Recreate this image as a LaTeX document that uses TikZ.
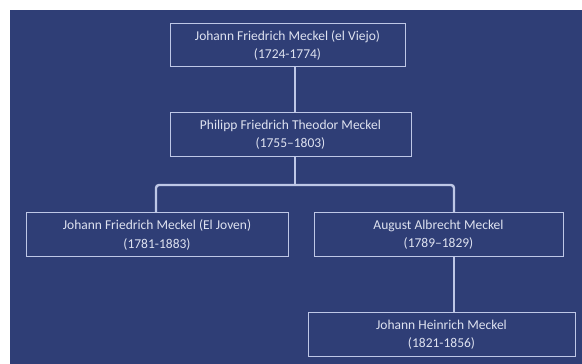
\documentclass[tikz,border=0pt]{standalone}
\usepackage{fontspec}
\setmainfont{Carlito}
\definecolor{bgblue}{RGB}{47,62,118}
\definecolor{linegray}{RGB}{190,199,230}
\definecolor{textgray}{RGB}{222,226,240}
\tikzset{
  person/.style={draw=linegray, line width=1pt, text=textgray, align=center,
    inner sep=0pt, font=\fontsize{13.5}{18.5}\selectfont},
  link/.style={draw=linegray, line width=2.4pt}
}
\begin{document}
\begin{tikzpicture}[x=1pt,y=1pt]
                    \useasboundingbox (0,0) rectangle (582,364);%
                    % Background
                    \fill [bgblue] (10,0) rectangle (582,354);%

                    % Person boxes
                    \node [person, minimum width=235, minimum height=43] (viejo) at (287.5,318.5)
                      {Johann Friedrich Meckel (el Viejo)\\(1724-1774)};%
                    \node [person, minimum width=241, minimum height=44] (philipp) at (290.5,229)
                      {Philipp Friedrich Theodor Meckel\\(1755--1803)};%
                    \node [person, minimum width=262, minimum height=44] (joven) at (157,129)
                      {Johann Friedrich Meckel (El Joven)\\(1781-1883)};%
                    \node [person, minimum width=249, minimum height=44] (august) at (438.5,129)
                      {August Albrecht Meckel\\(1789--1829)};%
                    \node [person, minimum width=267, minimum height=44] (heinrich) at (441.5,29)
                      {Johann Heinrich Meckel\\(1821-1856)};%

                    % Junction points
                    \coordinate (jtop) at (295,179);%
                    \coordinate (jleft) at (156,179);%
                    \coordinate (jright) at (454,179);%

                    % Drawing links
                    \draw [link] (viejo.south -| jtop) -- (philipp.north -| jtop);%
                    \draw [link] (philipp.south -| jtop) -- (jtop);%
                    \draw [link, rounded corners=3] (joven.north -| jleft) -- (jleft) -- (jright) -- (august.north -| jright);%
                    \draw [link] (august.south -| jright) -- (heinrich.north -| jright);%
\end{tikzpicture}
\end{document}
